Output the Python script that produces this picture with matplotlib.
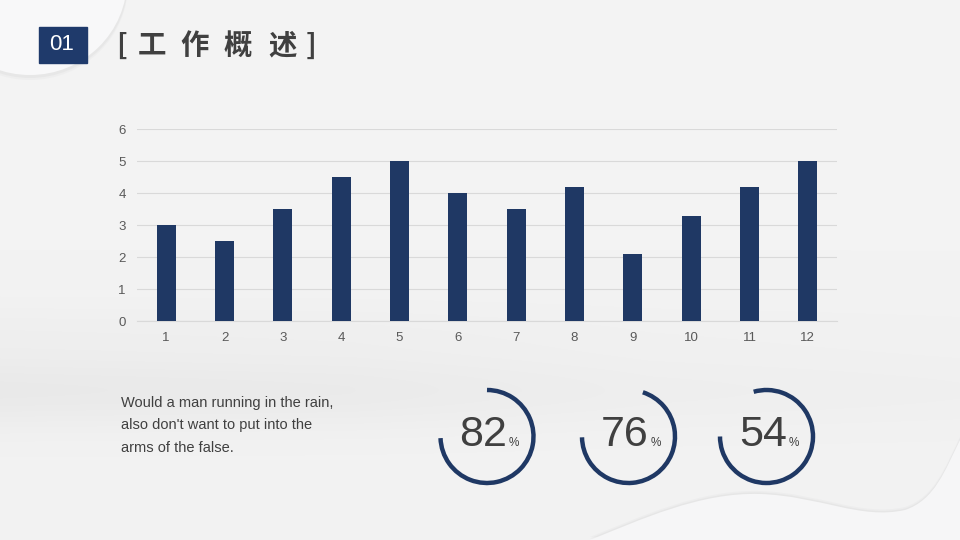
import numpy as np
import matplotlib
matplotlib.use('Agg')
import matplotlib.pyplot as plt
from matplotlib.patches import Arc, Rectangle, Ellipse, PathPatch
from matplotlib.path import Path
from matplotlib import font_manager

# chart data
months = ['1', '2', '3', '4', '5', '6', '7', '8', '9', '10', '11', '12']
values = [3, 2.5, 3.5, 4.5, 5, 4, 3.5, 4.2, 2.1, 3.3, 4.2, 5]
y_ticks = [0, 1, 2, 3, 4, 5, 6]

# the three rings (arc runs clockwise from start angle to end angle)
ring_values = [82, 76, 54]
ring_start = [90, 72, 106]
ring_end = [182, 181, 180]

title_chars = ['[', '工', '作', '概', '述', ']']
blurb = ["Would a man running in the rain,",
         "also don't want to put into the",
         "arms of the false."]

NAVY = '#1f3864'
GREY_TXT = '#404040'

names = {f.name for f in font_manager.fontManager.ttflist}
num_font = 'Liberation Sans Narrow' if 'Liberation Sans Narrow' in names else 'Liberation Sans'
num_size = 35 if num_font == 'Liberation Sans Narrow' else 31

fig = plt.figure(figsize=(9.6, 5.4), dpi=100)

# background: soft grey with a foggy band
bg = fig.add_axes([0, 0, 1, 1])
bg.set_xlim(0, 960)
bg.set_ylim(0, 540)
bg.axis('off')
yy = np.arange(540)
rows = 0.952 - 0.006 * (yy / 540.0)
fog = 0.035 * np.exp(-((yy - 390) / 38.0) ** 2) + 0.012 * np.exp(-((yy - 330) / 30.0) ** 2)
cols = np.interp(np.arange(960), [0, 350, 650, 960], [1.0, 0.85, 0.45, 0.3])
img = rows[:, None] - fog[:, None] * cols[None, :]
bg.imshow(img, cmap='gray', vmin=0, vmax=1, extent=[0, 960, 0, 540],
          origin='upper', aspect='auto', zorder=0, interpolation='bilinear')

# top-left blob
for dy, a in [(-4, 0.05), (-2, 0.08)]:
    bg.add_patch(Ellipse((30, 560 + dy), 196, 192, color='#9a9aa0', alpha=a, lw=0, zorder=1))
bg.add_patch(Ellipse((30, 560), 194, 190, color='#f8f8f9', lw=0, zorder=2))

# bottom-right wave
verts = [(590, 0), (640, 20), (700, 48), (760, 46), (820, 44), (860, 20), (905, 30),
         (935, 40), (945, 70), (960, 100), (960, 0), (590, 0)]
codes = [Path.MOVETO] + [Path.CURVE4] * 9 + [Path.LINETO, Path.CLOSEPOLY]
for dy, a in [(3, 0.05), (1.5, 0.08)]:
    sv = [(x, y + dy) for x, y in verts]
    bg.add_patch(PathPatch(Path(sv, codes), color='#9a9aa0', alpha=a, lw=0, zorder=1))
bg.add_patch(PathPatch(Path(verts, codes), color='#f6f6f7', lw=0, zorder=2))

# bar chart
ax = fig.add_axes([137 / 960, 1 - 321 / 540, 700 / 960, 191.7 / 540])
ax.patch.set_alpha(0)
x = np.arange(1, len(values) + 1)
ax.bar(x, values, width=0.33, color=NAVY, zorder=3)
ax.set_xlim(0.5, 12.5)
ax.set_ylim(0, 6)
ax.set_xticks(x)
ax.set_xticklabels(months)
ax.set_yticks(y_ticks)
ax.grid(axis='y', color='#d9d9d9', lw=0.8, zorder=0)
for s in ['top', 'left', 'right']:
    ax.spines[s].set_visible(False)
ax.spines['bottom'].set_color('#d9d9d9')
ax.spines['bottom'].set_linewidth(0.8)
ax.tick_params(length=0, labelsize=9.5, labelcolor='#595959')
ax.tick_params(axis='y', pad=8)
ax.tick_params(axis='x', pad=8)
for lab in ax.get_xticklabels() + ax.get_yticklabels():
    lab.set_fontfamily('Liberation Sans')

# overlay for header, text and rings
ov = fig.add_axes([0, 0, 1, 1])
ov.set_xlim(0, 960)
ov.set_ylim(0, 540)
ov.axis('off')

ov.add_patch(Rectangle((39, 540 - 63), 48, 36, color='#1f3a6b'))
ov.text(62, 540 - 45, '01', color='white', fontsize=16, ha='center', va='center',
        family='Liberation Sans')

title_x = [121.5, 152, 195, 238, 283, 311]
for ch, tx in zip(title_chars, title_x):
    ov.text(tx, 540 - 46, ch, fontsize=20.5, fontweight='bold', color=GREY_TXT,
            ha='center', va='center', family=['Noto Sans CJK SC', 'DejaVu Sans'])

for i, line in enumerate(blurb):
    ov.text(121, 540 - (403 + 22.5 * i), line, fontsize=10.5, color=GREY_TXT,
            ha='left', va='center', family='Liberation Sans')

ring_cx = [487, 628.5, 766.5]
ring_cy = 540 - 436.5
for cx, v, st, en in zip(ring_cx, ring_values, ring_start, ring_end):
    ov.add_patch(Arc((cx, ring_cy), 93, 93, theta1=en, theta2=st + 360,
                     color=NAVY, lw=3.2))
    ov.text(cx - 3.5, ring_cy + 2, str(v), fontsize=num_size, color=GREY_TXT,
            ha='center', va='center', family=num_font)
    ov.text(cx + 27, ring_cy - 6, '%', fontsize=8.5, color=GREY_TXT,
            ha='center', va='center', family='Liberation Sans')

fig.savefig('out.png', dpi=100)
